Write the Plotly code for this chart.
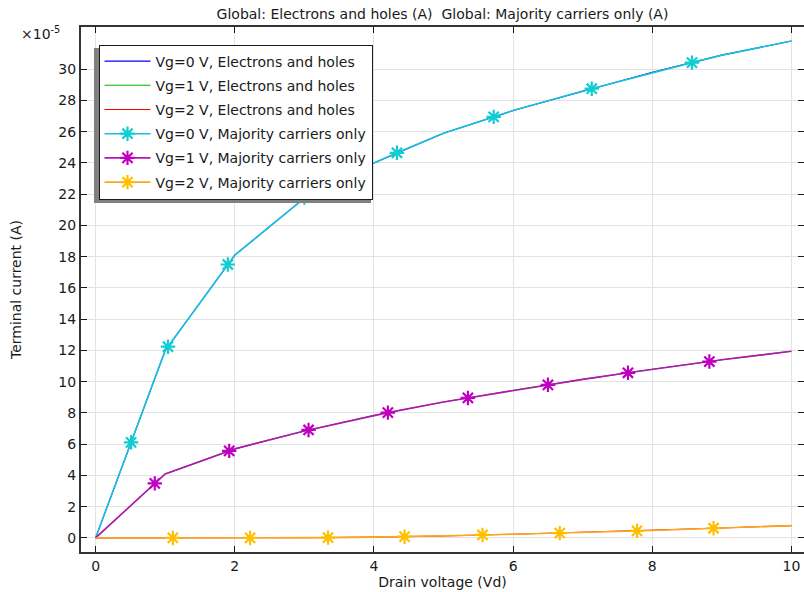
import plotly.graph_objects as go

# Drain voltage samples (V) and terminal current (units of 1e-5 A)
vd = [0, 1, 2, 3, 4, 5, 6, 7, 8, 9, 10]
i_eh_vg0 = [0, 12.0, 18.1, 21.75, 24.0, 25.9, 27.35, 28.6, 29.8, 30.9, 31.8]
i_eh_vg1 = [0, 4.1, 5.7, 6.85, 7.85, 8.7, 9.45, 10.15, 10.8, 11.4, 11.95]
i_eh_vg2 = [0, 0, 0, 0.01, 0.05, 0.12, 0.24, 0.37, 0.48, 0.64, 0.79]
i_mc_vg0 = i_eh_vg0
i_mc_vg1 = i_eh_vg1
i_mc_vg2 = i_eh_vg2

# marker positions along the majority-carrier curves
mk_vg0_x = [0.51, 1.04, 1.9, 3.0, 4.33, 5.72, 7.13, 8.57]
mk_vg0_y = [6.12, 12.24, 17.5, 21.78, 24.65, 26.95, 28.75, 30.42]
mk_vg1_x = [0.85, 1.92, 3.06, 4.2, 5.35, 6.5, 7.65, 8.82]
mk_vg1_y = [3.49, 5.57, 6.91, 8.02, 8.96, 9.8, 10.57, 11.29]
mk_vg2_x = [1.11, 2.22, 3.34, 4.44, 5.56, 6.67, 7.78, 8.88]
mk_vg2_y = [0.0, 0.0, 0.02, 0.08, 0.19, 0.31, 0.45, 0.62]

x_ticks = [0, 2, 4, 6, 8, 10]
y_ticks = list(range(0, 31, 2))

names_eh = ["Vg=0 V, Electrons and holes", "Vg=1 V, Electrons and holes",
            "Vg=2 V, Electrons and holes"]
names_mc = ["Vg=0 V, Majority carriers only", "Vg=1 V, Majority carriers only",
            "Vg=2 V, Majority carriers only"]

col_eh = ["#0000ff", "#00b400", "#ff0000"]
col_mc = ["#10cdd2", "#bf00bf", "#ffbf00"]
col_mc_line = ["#1cc0d8", "#b414b4", "#f7aa1c"]

FONT = "DejaVu Sans"
TXT = "#1a1a1a"
FS = 14

fig = go.Figure()

for k, (y, nm) in enumerate(zip([i_eh_vg0, i_eh_vg1, i_eh_vg2], names_eh)):
    fig.add_trace(go.Scatter(x=vd, y=y, mode="lines", name=nm,
                             legendgroup="eh%d" % k,
                             line=dict(color=col_eh[k], width=1.1)))

for k, (y, mx, my, nm) in enumerate(zip([i_mc_vg0, i_mc_vg1, i_mc_vg2],
                                       [mk_vg0_x, mk_vg1_x, mk_vg2_x],
                                       [mk_vg0_y, mk_vg1_y, mk_vg2_y], names_mc)):
    pts = sorted([(a, b, False) for a, b in zip(vd, y)] + [(a, b, True) for a, b in zip(mx, my)])
    sel = [i for i, p in enumerate(pts) if p[2]]
    fig.add_trace(go.Scatter(x=[p[0] for p in pts], y=[p[1] for p in pts],
                             mode="lines+markers", name=nm,
                             legendgroup="mc%d" % k,
                             selectedpoints=sel,
                             selected=dict(marker=dict(opacity=1)),
                             unselected=dict(marker=dict(opacity=0)),
                             line=dict(color=col_mc_line[k], width=1.6),
                             marker=dict(symbol="asterisk-open", size=12,
                                         color=col_mc[k],
                                         line=dict(color=col_mc[k], width=2.2))))

L, R, T, B = 81, 0, 27, 40
W, H = 804, 592
pw, ph = W - L - R, H - T - B

def px2x(p):
    return (p - L) / pw

def px2y(p):
    return (H - B - p) / ph

# legend shadow
fig.add_shape(type="rect", xref="paper", yref="paper",
              x0=px2x(94), x1=px2x(371), y0=px2y(203), y1=px2y(48),
              fillcolor="#808080", line=dict(width=0), layer="above")

fig.add_annotation(text="×10<sup>-5</sup>", xref="paper", yref="paper",
                   x=px2x(19), y=px2y(33), xanchor="left", yanchor="middle",
                   showarrow=False, font=dict(family=FONT, size=FS, color=TXT))

fig.update_layout(
    width=W, height=H,
    margin=dict(l=L, r=R, t=T, b=B, autoexpand=False),
    paper_bgcolor="white", plot_bgcolor="white",
    font=dict(family=FONT, size=FS, color=TXT),
    title=dict(text="Global: Electrons and holes (A)\u00a0 Global: Majority carriers only (A)",
               x=0.5, xref="paper", y=1 - 14 / H, yref="container",
               xanchor="center", yanchor="middle",
               font=dict(family=FONT, size=14, color=TXT)),
    showlegend=True,
    legend=dict(x=px2x(98.5), y=px2y(44.5), xanchor="left", yanchor="top",
                bgcolor="white", bordercolor="#1a1a1a", borderwidth=1,
                font=dict(family=FONT, size=FS, color=TXT),
                traceorder="grouped", tracegroupgap=3, itemwidth=46),
    xaxis=dict(range=[-0.21, 10.18], tickvals=x_ticks, ticks="inside", ticklen=6,
               tickcolor="#1a1a1a", showline=True, linecolor="#333", linewidth=2,
               mirror="ticks", showgrid=True, gridcolor="#e3e3e3", gridwidth=1,
               zeroline=False, automargin=False,
               title=dict(text="Drain voltage (Vd)", standoff=0,
                          font=dict(family=FONT, size=14, color=TXT)),
               tickfont=dict(size=FS)),
    yaxis=dict(range=[-0.9, 32.7], tickvals=y_ticks, ticks="inside", ticklen=6,
               tickcolor="#1a1a1a", showline=True, linecolor="#333", linewidth=2,
               mirror="ticks", showgrid=True, gridcolor="#e3e3e3", gridwidth=1,
               zeroline=False, automargin=False,
               title=dict(text="Terminal current (A)", standoff=33,
                          font=dict(family=FONT, size=14, color=TXT)),
               tickfont=dict(size=FS)),
)

fig.write_html("out.html", config={"displayModeBar": False},
               post_script="document.body.style.margin='0';")
